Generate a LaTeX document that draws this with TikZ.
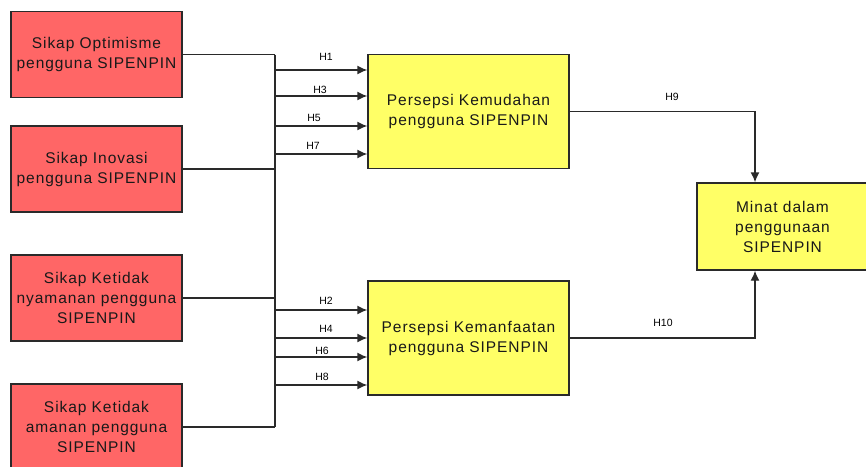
\documentclass[tikz,border=0pt]{standalone}
\usepackage{fontspec}
\setmainfont{Liberation Sans}
\newfontfamily\boxfont[LetterSpace=6]{Liberation Sans}
\usetikzlibrary{arrows.meta,calc}
\definecolor{redbox}{HTML}{FF6666}
\definecolor{yelbox}{HTML}{FFFF66}
\definecolor{linec}{HTML}{2A2A2A}
\tikzset{
  base/.style={draw=linec, line width=1.4pt, rectangle, align=center, inner sep=0pt,
    font=\boxfont\fontsize{15.5}{20}\selectfont, text=black!90},
  redb/.style={base, fill=redbox, minimum width=171pt, minimum height=86pt},
  yelb/.style={base, fill=yelbox, minimum width=201pt, minimum height=114pt},
  conn/.style={draw=linec, line width=1.4pt},
  arr/.style={conn, -{Latex[length=10pt,width=9pt]}},
  hlab/.style={font=\fontsize{10.5}{11}\selectfont, text=black, inner sep=0pt}
}
\begin{document}
\begin{tikzpicture}[x=1pt,y=-1pt]
\useasboundingbox (0,0) rectangle (866,466);
\clip (0,0) rectangle (866,466);
\fill[white] (0,0) rectangle (866,466);
% red boxes
\node[redb] (r1) at (96.5,54.5) {Sikap Optimisme\\pengguna SIPENPIN};
\node[redb] (r2) at (96.5,169) {Sikap Inovasi\\pengguna SIPENPIN};
\node[redb] (r3) at (96.5,298) {Sikap Ketidak\\nyamanan pengguna\\SIPENPIN};
\node[redb] (r4) at (96.5,427) {Sikap Ketidak\\amanan pengguna\\SIPENPIN};
% yellow boxes
\node[yelb] (pk) at (468.5,111.5) {Persepsi Kemudahan\\pengguna SIPENPIN};
\node[yelb] (pm) at (468.5,338) {Persepsi Kemanfaatan\\pengguna SIPENPIN};
\node[base, fill=yelbox, minimum width=171pt, minimum height=87pt] (mn) at (782.5,226.5) {Minat dalam\\penggunaan\\SIPENPIN};
% bus
\coordinate (bx) at (275,0);
\coordinate (vt) at (bx |- r1.east);
\coordinate (vb) at (bx |- r4.east);
\draw[conn] (r1.east) -- (vt);
\draw[conn] (r2.east) -- (bx |- r2.east);
\draw[conn] (r3.east) -- (bx |- r3.east);
\draw[conn] (r4.east) -- (vb);
\draw[conn] (vt) -- (vb);
% arrows to Persepsi Kemudahan
\coordinate (a1) at (275,70);
\coordinate (a3) at (275,96);
\coordinate (a5) at (275,126);
\coordinate (a7) at (275,154);
\draw[arr] (a1) -- (a1 -| pk.west);
\draw[arr] (a3) -- (a3 -| pk.west);
\draw[arr] (a5) -- (a5 -| pk.west);
\draw[arr] (a7) -- (a7 -| pk.west);
% arrows to Persepsi Kemanfaatan
\coordinate (a2) at (275,310);
\coordinate (a4) at (275,338);
\coordinate (a6) at (275,357);
\coordinate (a8) at (275,385);
\draw[arr] (a2) -- (a2 -| pm.west);
\draw[arr] (a4) -- (a4 -| pm.west);
\draw[arr] (a6) -- (a6 -| pm.west);
\draw[arr] (a8) -- (a8 -| pm.west);
% labels
\node[hlab] (h1) at (326,57) {H1};
\node[hlab] (h3) at (320,90) {H3};
\node[hlab] (h5) at (314,118) {H5};
\node[hlab] (h7) at (313,146) {H7};
\node[hlab] (h2) at (326,301) {H2};
\node[hlab] (h4) at (326,329) {H4};
\node[hlab] (h6) at (322,351) {H6};
\node[hlab] (h8) at (322,377) {H8};
% to Minat
\coordinate (mx) at (755,0);
\draw[arr] (pk.east) -| (mx |- mn.north);
\draw[arr] (pm.east) -| (mx |- mn.south);
\node[hlab] (h9) at (672,97) {H9};
\node[hlab] (h10) at (663,323) {H10};
\end{tikzpicture}
\end{document}
